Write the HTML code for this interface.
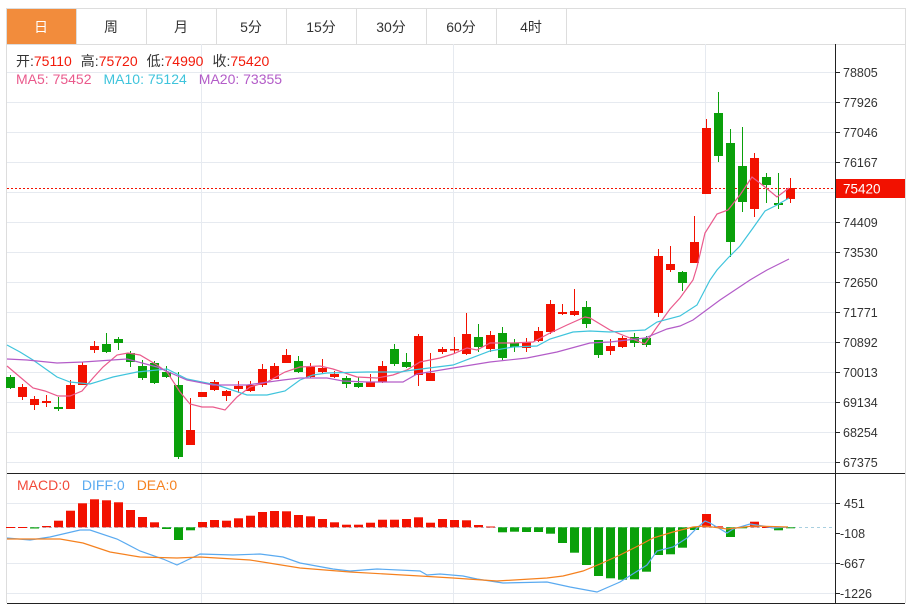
<!DOCTYPE html>
<html><head><meta charset="utf-8"><style>
html,body{margin:0;padding:0;background:#fff;}
svg{display:block;font-family:"Liberation Sans","Noto Sans CJK SC",sans-serif;}
</style></head><body>
<svg width="913" height="604" viewBox="0 0 913 604" xmlns="http://www.w3.org/2000/svg">
<rect width="913" height="604" fill="#fff"/>
<rect x="6.5" y="8.5" width="899" height="36" fill="#fff" stroke="#ddd"/>
<rect x="7" y="9" width="69" height="35" fill="#f28c3c"/>
<g stroke="#ddd"><line x1="76.5" y1="9" x2="76.5" y2="44"/><line x1="146.5" y1="9" x2="146.5" y2="44"/><line x1="216.5" y1="9" x2="216.5" y2="44"/><line x1="286.5" y1="9" x2="286.5" y2="44"/><line x1="356.5" y1="9" x2="356.5" y2="44"/><line x1="426.5" y1="9" x2="426.5" y2="44"/><line x1="496.5" y1="9" x2="496.5" y2="44"/><line x1="566.5" y1="9" x2="566.5" y2="44"/></g>
<g font-size="14" text-anchor="middle" fill="#333">
<text x="41" y="32" fill="#fff">日</text><text x="111" y="32">周</text><text x="181" y="32">月</text><text x="251" y="32">5分</text><text x="321" y="32">15分</text><text x="391" y="32">30分</text><text x="461" y="32">60分</text><text x="531" y="32">4时</text>
</g>
<line x1="6.5" y1="44" x2="6.5" y2="603" stroke="#ddd"/>
<line x1="905.5" y1="44" x2="905.5" y2="603" stroke="#ddd"/>
<g stroke="#e6eaf0" stroke-width="1">
<line x1="7" y1="72.5" x2="835" y2="72.5"/><line x1="7" y1="102.5" x2="835" y2="102.5"/><line x1="7" y1="132.5" x2="835" y2="132.5"/><line x1="7" y1="162.5" x2="835" y2="162.5"/><line x1="7" y1="192.5" x2="835" y2="192.5"/><line x1="7" y1="222.5" x2="835" y2="222.5"/><line x1="7" y1="252.5" x2="835" y2="252.5"/><line x1="7" y1="282.5" x2="835" y2="282.5"/><line x1="7" y1="312.5" x2="835" y2="312.5"/><line x1="7" y1="342.5" x2="835" y2="342.5"/><line x1="7" y1="372.5" x2="835" y2="372.5"/><line x1="7" y1="402.5" x2="835" y2="402.5"/><line x1="7" y1="432.5" x2="835" y2="432.5"/><line x1="7" y1="462.5" x2="835" y2="462.5"/>
<line x1="7" y1="503.5" x2="835" y2="503.5"/><line x1="7" y1="563.5" x2="835" y2="563.5"/><line x1="7" y1="593.5" x2="835" y2="593.5"/>
<line x1="201.5" y1="44" x2="201.5" y2="603"/><line x1="453.5" y1="44" x2="453.5" y2="603"/><line x1="705.5" y1="44" x2="705.5" y2="603"/>
</g>
<line x1="835.5" y1="44" x2="835.5" y2="603" stroke="#222"/>
<line x1="7" y1="473.5" x2="905" y2="473.5" stroke="#222"/>
<line x1="7" y1="603.5" x2="905" y2="603.5" stroke="#222"/>
<g font-size="12.5" fill="#333">
<text x="843" y="77">78805</text><text x="843" y="107">77926</text><text x="843" y="137">77046</text><text x="843" y="167">76167</text><text x="843" y="227">74409</text><text x="843" y="257">73530</text><text x="843" y="287">72650</text><text x="843" y="317">71771</text><text x="843" y="347">70892</text><text x="843" y="377">70013</text><text x="843" y="407">69134</text><text x="843" y="437">68254</text><text x="843" y="467">67375</text>
<text x="844" y="508">451</text><text x="840" y="538">-108</text><text x="840" y="568">-667</text><text x="840" y="598">-1226</text>
</g>
<g stroke="#222"><line x1="835" y1="72.5" x2="840" y2="72.5"/><line x1="835" y1="102.5" x2="840" y2="102.5"/><line x1="835" y1="132.5" x2="840" y2="132.5"/><line x1="835" y1="162.5" x2="840" y2="162.5"/><line x1="835" y1="222.5" x2="840" y2="222.5"/><line x1="835" y1="252.5" x2="840" y2="252.5"/><line x1="835" y1="282.5" x2="840" y2="282.5"/><line x1="835" y1="312.5" x2="840" y2="312.5"/><line x1="835" y1="342.5" x2="840" y2="342.5"/><line x1="835" y1="372.5" x2="840" y2="372.5"/><line x1="835" y1="402.5" x2="840" y2="402.5"/><line x1="835" y1="432.5" x2="840" y2="432.5"/><line x1="835" y1="462.5" x2="840" y2="462.5"/><line x1="835" y1="503.5" x2="840" y2="503.5"/><line x1="835" y1="533.5" x2="840" y2="533.5"/><line x1="835" y1="563.5" x2="840" y2="563.5"/><line x1="835" y1="593.5" x2="840" y2="593.5"/></g>
<g font-size="14">
<text x="16" y="66"><tspan fill="#333">开:</tspan><tspan fill="#f21a0a">75110</tspan><tspan fill="#333" dx="9">高:</tspan><tspan fill="#f21a0a">75720</tspan><tspan fill="#333" dx="9">低:</tspan><tspan fill="#f21a0a">74990</tspan><tspan fill="#333" dx="9">收:</tspan><tspan fill="#f21a0a">75420</tspan></text>
<text x="16" y="84"><tspan fill="#ea5a8c">MA5: 75452</tspan><tspan fill="#3fc4dc" dx="12">MA10: 75124</tspan><tspan fill="#b35cc8" dx="12">MA20: 73355</tspan></text>
<text x="17" y="490"><tspan fill="#f24a3a">MACD:0</tspan><tspan fill="#5aaaf0" dx="12">DIFF:0</tspan><tspan fill="#f5811f" dx="12">DEA:0</tspan></text>
</g>
<line x1="7" y1="188.5" x2="835" y2="188.5" stroke="#f21100" stroke-dasharray="2,2"/>
<rect x="836" y="179" width="69" height="19" fill="#f21100"/>
<text x="843" y="193.5" font-size="13.5" fill="#fff">75420</text>
<g id="c"></g>
<line x1="7" y1="527.5" x2="835" y2="527.5" stroke="#a8cfe0" stroke-dasharray="3,3"/>
<g id="h"></g>
<g id="l" fill="none" stroke-width="1.2"></g>
</svg>
<script>
var NS="http://www.w3.org/2000/svg";
function el(p,t,a){var e=document.createElementNS(NS,t);for(var k in a)e.setAttribute(k,a[k]);p.appendChild(e);return e;}
var R="#f21100",G="#0aa00a";
var C=[["g",377,388,375,389],["r",387,397,384,400],["r",399,405,396,410],["r",401,403,395,407],["g",407,409,397,411],["r",385,409,380,409],["r",365,385,362,385],["r",346,350,341,353],["g",344,352,333,353],["g",339,343,337,350],["g",353,362,351,367],["g",366,378,360,380],["g",363,383,361,384],["g",372,377,366,378],["g",385,457,372,459],["r",430,445,398,445],["r",392,397,392,397],["r",382,390,380,391],["r",391,396,390,401],["r",386,389,381,393],["r",385,391,381,392],["r",369,385,364,387],["r",366,379,363,379],["r",355,363,349,363],["g",361,372,356,373],["r",367,377,363,378],["r",368,372,359,373],["r",374,377,371,378],["g",378,384,376,388],["g",383,387,377,388],["r",382,387,374,387],["r",366,382,361,383],["g",349,364,344,366],["g",362,367,353,368],["r",336,375,334,386],["r",373,381,353,381],["r",349,352,347,354],["r",349,350,337,353],["r",334,354,313,355],["g",337,347,324,352],["r",335,349,331,352],["g",333,358,327,360],["g",343,347,339,352],["r",342,348,338,352],["r",331,341,327,342],["r",304,332,300,334],["r",312,314,304,315],["r",311,315,289,316],["g",307,324,301,328],["g",340,355,340,358],["r",346,351,339,355],["r",338,347,336,348],["g",337,343,333,347],["g",338,345,336,347],["r",256,313,249,317],["r",264,270,246,272],["g",272,283,271,291],["r",242,263,216,263],["r",128,194,119,194],["g",113,156,92,162],["g",143,242,129,257],["g",166,202,127,212],["r",158,209,153,217],["g",177,185,173,203],["g",203,205,173,209],["r",188,199,178,203]];
var cg=document.getElementById("c");
C.forEach(function(c,i){var x=10+12*i,col=c[0]=="r"?R:G;
el(cg,"line",{x1:x+0.5,x2:x+0.5,y1:c[3],y2:c[4],stroke:col});
el(cg,"rect",{x:x-4,y:c[1],width:9,height:Math.max(1.5,c[2]-c[1]),fill:col});});
var Z=527.3;
var H=[527,527,528.5,526,520.7,510.7,503.3,499.3,500.3,502.3,510,517,522.3,529,540,530.3,522,520,520.7,518.3,515.7,512,511,511.3,515,516.3,519,522.3,524.7,524.7,522.7,519.7,519.7,519,517.3,522.7,519,520,520.3,525,526.5,532.3,531.7,532,532,533.7,543,552.7,565,576,578.3,579.7,579.3,571.7,555,554.3,547.7,530,514,526.3,537,528.3,521.7,527,530.3,527.5];
var hg=document.getElementById("h");
H.forEach(function(v,i){var x=10+12*i;var up=v<Z;el(hg,"rect",{x:x-4,y:Math.min(v,Z),width:9,height:Math.max(1,Math.abs(v-Z)),fill:up?R:G});});
function pl(pts,col){el(document.getElementById("l"),"polyline",{points:pts,stroke:col});}
pl("7,366 20,377 33,388 45,391 58,396 70,396 82,391 93,378 103,367 117,355 128,353 140,355 157,365 167,372 180,392 190,404 202,407 213,407 225,410 237,397 250,387 267,382 285,372 300,367 320,366 333,369 357,377 377,378 393,375 407,370 420,362 440,358 453,354 467,348 477,350 490,343 513,343 533,342 550,333 567,325 585,317 590,318 610,330 630,338 645,344 657,327 670,309 680,298 693,280 697,267 705,233 717,214 728,210 740,195 752,177 765,187 777,197 789,188","#ea5a8c");
pl("7,345 20,352 33,360 57,377 70,382 90,384 113,377 137,372 167,369 187,379 217,385 247,395 267,395 285,391 300,380 313,375 327,373 367,372 400,372 413,370 453,365 490,351 513,347 537,346 550,339 573,332 590,331 610,332 645,330 657,322 680,316 697,305 710,280 717,270 728,258 740,246 753,228 765,211 777,205 789,198","#3fc4dc");
pl("7,359 27,360 57,363 83,362 127,359 157,367 187,380 213,385 247,385 283,380 300,378 327,378 343,381 367,382 403,382 417,374 453,368 490,362 527,358 557,352 590,343 610,342 645,338 667,329 680,326 693,320 720,300 750,280 767,270 789,259","#b35cc8");
pl("7,538 30,540 50,537 80,530 90,530 117,539 140,551 163,559 177,565 200,554 233,555 260,554 283,557 300,563 333,569 350,571 377,569 420,571 427,575 440,574 463,576 477,579 503,583 547,582 570,587 597,592 620,582 647,565 657,551 673,547 687,538 697,528 705,521 710,523 727,533 733,529 750,524 763,526 773,528 788,527","#5aaaf0");
pl("7,539 60,539 83,543 110,552 140,557 177,558 200,557 250,560 300,568 350,572 420,576 453,578 497,581 547,578 563,576 583,571 600,564 620,555 640,545 653,538 673,532 693,527 705,526 727,529 753,526 788,527","#f5811f");
</script>
</body></html>
